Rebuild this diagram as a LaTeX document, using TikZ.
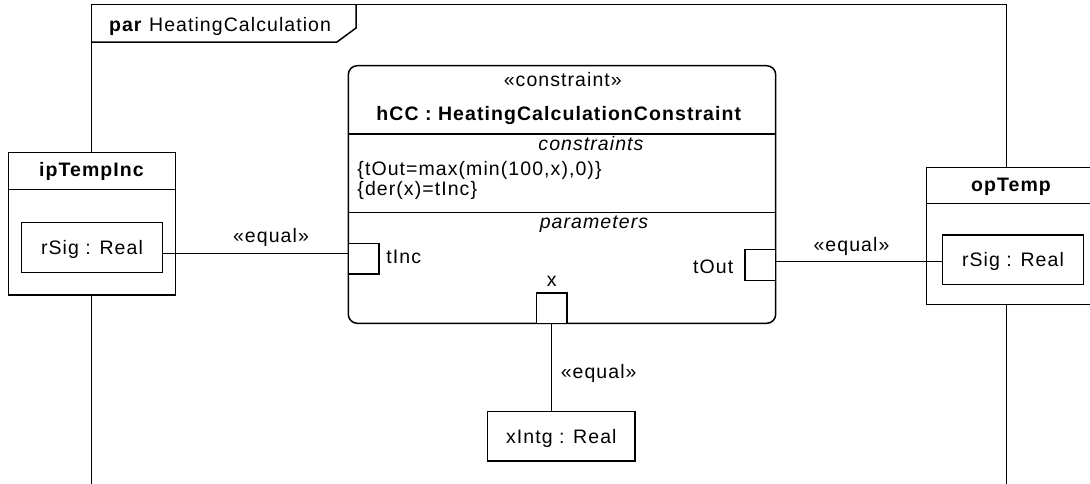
\documentclass[tikz,border=0pt]{standalone}
\usepackage{fontspec}
\setmainfont[LetterSpace=5.5]{Liberation Sans}
\begin{document}
\begin{tikzpicture}[x=1pt,y=-1pt,
  font=\fontsize{19.5pt}{23pt}\selectfont,
  line width=1.5pt,
  lbl/.style={anchor=base,inner sep=0pt},
  box/.style={draw,fill=white,inner sep=0pt},
  part/.style={draw,fill=white,inner sep=0pt,text height=14pt,text depth=0pt},
  portbox/.style={draw,fill=white,inner sep=0pt,minimum width=30.7pt,minimum height=30.7pt},
  wire/.style={draw}]
\useasboundingbox (0,0) rectangle (1090,483);
\clip (0,0) rectangle (1090,483);
% frame
\draw (91.7,4.5) rectangle (1006.7,500);
\draw (91.7,42) -- (337,42) -- (356,28) -- (356,4.5);
\node[lbl,anchor=base west] (title) at (108.3,31.7) {\textbf{par} HeatingCalculation};
% ipTempInc
\node[box,minimum width=167.4pt,minimum height=142.7pt] (ipTempInc) at (92,223.65) {};
\draw (ipTempInc.west |- 0,189.3) -- (ipTempInc.east |- 0,189.3);
\node[lbl] (ipTempIncName) at (92,176) {\textbf{ipTempInc}};
\node[part,minimum width=140.6pt,minimum height=50pt] (rSig1) at (92,247.7) {rSig : Real};
% opTemp
\node[box,minimum width=172.3pt,minimum height=137pt] (opTemp) at (1012.85,235.8) {};
\draw (opTemp.west |- 0,203.3) -- (opTemp.east |- 0,203.3);
\node[lbl] (opTempName) at (1011.5,191.7) {\textbf{opTemp}};
\node[part,minimum width=140.6pt,minimum height=49.3pt] (rSig2) at (1013,259.65) {rSig : Real};
% constraint block
\node[draw,fill=white,rounded corners=9pt,minimum width=427.4pt,minimum height=257.6pt,inner sep=0pt] (hCC) at (562,194.5) {};
\draw (hCC.west |- 0,134) -- (hCC.east |- 0,134);
\draw (hCC.west |- 0,212.7) -- (hCC.east |- 0,212.7);
\node[lbl] (stereo) at (562.8,86.7) {«constraint»};
\node[lbl] (hccName) at (559.3,120) {\textbf{hCC : HeatingCalculationConstraint}};
\node[lbl] (constrHdr) at (591.5,150.7) {\textit{constraints}};
\node[lbl,anchor=base west] (c1) at (356.7,175) {\{tOut=max(min(100,x),0)\}};
\node[lbl,anchor=base west] (c2) at (356.7,195) {\{der(x)=tInc\}};
\node[lbl] (paramHdr) at (594.5,228.3) {\textit{parameters}};
% ports
\node[portbox] (tInc) at (363.65,258.65) {};
\node[portbox] (tOut) at (760.35,265) {};
\node[portbox] (xport) at (551.65,308.3) {};
\node[lbl,anchor=base west] (tIncL) at (385.7,263.3) {tInc};
\node[lbl,anchor=base east] (tOutL) at (734,273.3) {tOut};
\node[lbl] (xL) at (551.65,286.7) {x};
% xIntg
\node[part,minimum width=147.3pt,minimum height=49.3pt] (xIntg) at (561.35,436.35) {xIntg : Real};
% connectors
\draw[wire] ([yshift=-6pt]rSig1.east) -- ([yshift=-6pt]rSig1.east -| tInc.west);
\draw[wire] ([yshift=-2pt]rSig2.west) -- ([yshift=-2pt]rSig2.west -| tOut.east);
\draw[wire] (xport.south) -- (xport.south |- xIntg.north);
\node[lbl] (eq1) at (271,242.7) {«equal»};
\node[lbl] (eq2) at (851.5,251.7) {«equal»};
\node[lbl,anchor=base west] (eq3) at (560,378) {«equal»};
\end{tikzpicture}
\end{document}
